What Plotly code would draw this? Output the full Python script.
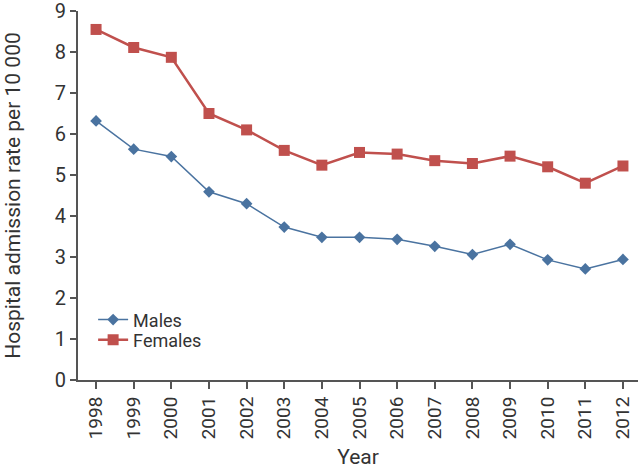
import plotly.graph_objects as go

years = [1998, 1999, 2000, 2001, 2002, 2003, 2004, 2005, 2006, 2007, 2008, 2009, 2010, 2011, 2012]
males = [6.32, 5.63, 5.45, 4.59, 4.30, 3.73, 3.48, 3.48, 3.43, 3.26, 3.06, 3.31, 2.93, 2.71, 2.94]
females = [8.55, 8.11, 7.87, 6.50, 6.10, 5.60, 5.24, 5.55, 5.51, 5.35, 5.28, 5.46, 5.20, 4.80, 5.22]
y_ticks = [0, 1, 2, 3, 4, 5, 6, 7, 8, 9]

male_color = "#4a73a0"
female_color = "#c0504d"
axis_color = "#555555"
font_family = "Roboto, 'DejaVu Sans', sans-serif"

fig = go.Figure()
fig.add_trace(go.Scatter(
    x=years, y=males, name="Males", mode="lines+markers",
    line=dict(color=male_color, width=1.5),
    marker=dict(symbol="diamond", size=9, color=male_color),
    legend="legend",
))
fig.add_trace(go.Scatter(
    x=years, y=females, name="Females", mode="lines+markers",
    line=dict(color=female_color, width=2.5),
    marker=dict(symbol="square", size=11, color=female_color),
    legend="legend2",
))

legend_common = dict(xanchor="left", yanchor="middle", bgcolor="rgba(0,0,0,0)",
                     font=dict(size=18), itemwidth=30)

fig.update_layout(
    width=640, height=469,
    margin=dict(l=78, r=2, t=11, b=89),
    plot_bgcolor="white", paper_bgcolor="white",
    font=dict(family=font_family, color="#333333", size=16),
    showlegend=True,
    legend=dict(x=0.027, y=0.163, **legend_common),
    legend2=dict(x=0.027, y=0.108, **legend_common),
    xaxis=dict(
        range=[1997.52, 2012.4], tickmode="array", tickvals=years,
        ticktext=[str(y) for y in years], tickangle=-90,
        showgrid=False, zeroline=False, showline=True,
        linecolor=axis_color, linewidth=2, automargin=False,
        ticks="outside", ticklen=7, tickwidth=2, tickcolor=axis_color,
        tickfont=dict(size=19), ticklabeloverflow="allow",
        title=dict(text="Year", font=dict(size=21), standoff=14),
    ),
    yaxis=dict(
        range=[0, 9], tickmode="array", tickvals=y_ticks,
        showgrid=False, zeroline=False, showline=True,
        linecolor=axis_color, linewidth=2, automargin=False,
        ticks="outside", ticklen=6, tickwidth=2, tickcolor=axis_color,
        tickfont=dict(size=20), ticklabeloverflow="allow",
        title=dict(text="Hospital admission rate per 10 000", font=dict(size=21), standoff=28),
    ),
)

fig.write_html("out.html", config={"displayModeBar": False},
               post_script="document.body.style.margin='0';")
